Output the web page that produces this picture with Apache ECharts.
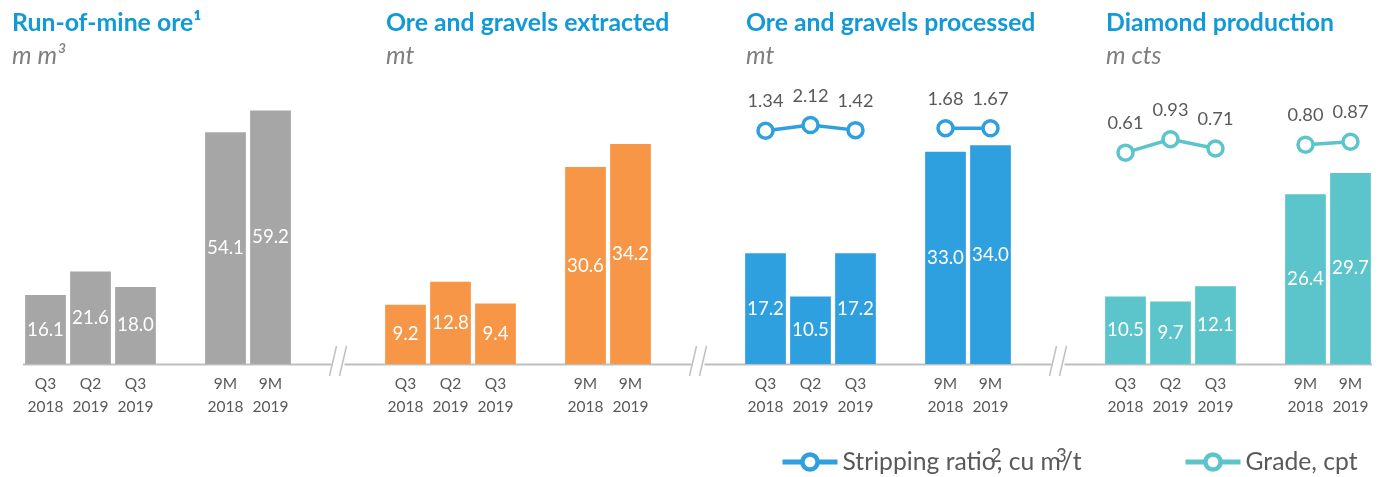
<!DOCTYPE html>
<html>
<head>
<meta charset="utf-8">
<script src="https://cdn.jsdelivr.net/npm/echarts@6/dist/echarts.min.js"></script>
<style>
html,body{margin:0;padding:0;background:#fff;}
#chart{width:1384px;height:477px;}
</style>
</head>
<body>
<div id="chart"></div>
<script>
// ---------------- DATA ----------------
const categories = ['Q3\n2018', 'Q2\n2019', 'Q3\n2019', '', '9M\n2018', '9M\n2019'];
const panelTitles = ['Run-of-mine ore\u00B9', 'Ore and gravels extracted', 'Ore and gravels processed', 'Diamond production'];
const panelUnits = ['m m\u00B3', 'mt', 'mt', 'm cts'];
const runOfMineOre = [16.1, 21.6, 18.0, null, 54.1, 59.2];
const oreGravelsExtracted = [9.2, 12.8, 9.4, null, 30.6, 34.2];
const oreGravelsProcessed = [17.2, 10.5, 17.2, null, 33.0, 34.0];
const diamondProduction = [10.5, 9.7, 12.1, null, 26.4, 29.7];
const strippingRatio = [1.34, 2.12, 1.42, null, 1.68, 1.67];
const grade = [0.61, 0.93, 0.71, null, 0.80, 0.87];
const strippingName = 'Stripping ratio';
const gradeName = 'Grade, cpt';

// ---------------- LAYOUT / STYLE ----------------
const FONT = 'Lato';
const GRID_LEFTS = [23, 383, 743, 1103];
const GRID_W = 270;
const GRID_TOP = 60;
const BASE_Y = 364;
const TITLE_LEFTS = [12, 386, 746, 1106];
const BAR_COLORS = ['#a6a6a6', '#f79646', '#2fa0df', '#5cc5cb'];
const TITLE_COLOR = '#129ad6';
const TEXT_GREY = '#595959';
const AXIS_GREY = '#bfbfbf';

const cv = document.createElement('canvas').getContext('2d');
function fit(text, weight, style, target) {
  cv.font = style + ' ' + weight + ' 100px ' + FONT;
  return +(100 * target / cv.measureText(text).width).toFixed(1);
}
const titleSize = fit('Ore and gravels extracted', 'bold', 'normal', 284);
const subSize = fit('m m', 'normal', 'italic', 45);
const barLabelSize = fit('16.1', 'normal', 'normal', 37);
const axisLabelSize = fit('2018', 'normal', 'normal', 36);
const lineLabelSize = fit('1.34', 'normal', 'normal', 36);
const legendSize = fit('Grade, cpt', 'normal', 'normal', 112);

const chart = echarts.init(document.getElementById('chart'), null, {renderer: 'canvas'});

const barData = [runOfMineOre, oreGravelsExtracted, oreGravelsProcessed, diamondProduction];

const titles = panelTitles.map((t, i) => ({
  text: t,
  subtext: panelUnits[i],
  left: TITLE_LEFTS[i],
  top: 11,
  itemGap: 7,
  padding: 0,
  textStyle: {fontFamily: FONT, fontWeight: 'bold', fontSize: titleSize, color: TITLE_COLOR},
  subtextStyle: {fontFamily: FONT, fontStyle: 'italic', fontSize: subSize, color: '#7f7f7f'}
}));

const grids = GRID_LEFTS.map(l => ({left: l, width: GRID_W, top: GRID_TOP, height: BASE_Y - GRID_TOP}));

const xAxes = GRID_LEFTS.map((l, i) => ({
  type: 'category', gridIndex: i, data: categories,
  axisLine: {show: false}, axisTick: {show: false},
  axisLabel: {color: TEXT_GREY, fontFamily: FONT, fontSize: axisLabelSize, lineHeight: 23, margin: 8, interval: 0}
}));

const yAxes = [
  {gridIndex: 0, type: 'value', min: 0, max: 71, show: false},
  {gridIndex: 1, type: 'value', min: 0, max: 47.25, show: false},
  {gridIndex: 2, type: 'value', min: 0, max: 47.25, show: false},
  {gridIndex: 3, type: 'value', min: 0, max: 47.25, show: false},
  {gridIndex: 2, type: 'value', min: -30.93, max: 11.12, show: false},
  {gridIndex: 3, type: 'value', min: -4.435, max: 2.821, show: false}
];

const series = barData.map((d, i) => ({
  type: 'bar', xAxisIndex: i, yAxisIndex: i, data: d,
  barCategoryGap: '9.5%',
  itemStyle: {color: BAR_COLORS[i]},
  label: {show: true, position: 'inside', color: '#fff', fontFamily: FONT, fontSize: barLabelSize,
    formatter: p => p.value.toFixed(1)}
}));

function lineSeries(name, data, xi, yi, color) {
  return {
    type: 'line', name: name, xAxisIndex: xi, yAxisIndex: yi, data: data,
    connectNulls: false,
    symbol: 'circle', symbolSize: 15,
    lineStyle: {color: color, width: 3.5},
    itemStyle: {color: '#fff', borderColor: color, borderWidth: 3.5},
    label: {show: true, position: 'top', distance: 11, color: TEXT_GREY, fontFamily: FONT, fontSize: lineLabelSize,
      formatter: p => p.value.toFixed(2)},
    z: 5
  };
}
series.push(lineSeries(strippingName, strippingRatio, 2, 4, '#2fa0df'));
series.push(lineSeries(gradeName, grade, 3, 5, '#5cc5cb'));

// axis line with break marks
const breaks = GRID_LEFTS.slice(1).map(l => l - 45);
const segStarts = [GRID_LEFTS[0]].concat(breaks.map(b => b + 6.5));
const segEnds = breaks.map(b => b - 6.5).concat([GRID_LEFTS[3] + GRID_W - 1]);
const graphics = [];
segStarts.forEach((s, i) => {
  graphics.push({type: 'line', shape: {x1: s, y1: BASE_Y + 0.5, x2: segEnds[i], y2: BASE_Y + 0.5},
    style: {stroke: AXIS_GREY, lineWidth: 2}, silent: true});
});
breaks.forEach(b => {
  [-5, 5].forEach(d => {
    graphics.push({type: 'line', shape: {x1: b + d + 3.5, y1: BASE_Y - 18, x2: b + d - 3.5, y2: BASE_Y + 12},
      style: {stroke: AXIS_GREY, lineWidth: 1.5}, silent: true});
  });
});

const richLegend = {
  a: {fontFamily: FONT, fontSize: legendSize, color: TEXT_GREY, lineHeight: 30},
  s: {fontFamily: FONT, fontSize: legendSize * 0.75, color: TEXT_GREY, verticalAlign: 'top',
      lineHeight: 10, width: 1, align: 'center'}
};

const legendCommon = {top: 447, itemWidth: 55, itemHeight: 19, padding: 0, itemGap: 5,
  lineStyle: {width: 5}, itemStyle: {borderWidth: 4.5}};

chart.setOption({
  animation: false,
  backgroundColor: '#fff',
  title: titles,
  grid: grids,
  xAxis: xAxes,
  yAxis: yAxes,
  series: series,
  graphic: graphics,
  legend: [
    Object.assign({data: [strippingName], left: 780,
      formatter: () => '{a|Stripping ratio}{s|2}{a|, cu m}{s|3}{a|/t}',
      textStyle: {rich: richLegend}}, legendCommon),
    Object.assign({data: [gradeName], left: 1183,
      textStyle: {fontFamily: FONT, fontSize: legendSize, color: TEXT_GREY, lineHeight: 30}}, legendCommon)
  ]
});
</script>
</body>
</html>
